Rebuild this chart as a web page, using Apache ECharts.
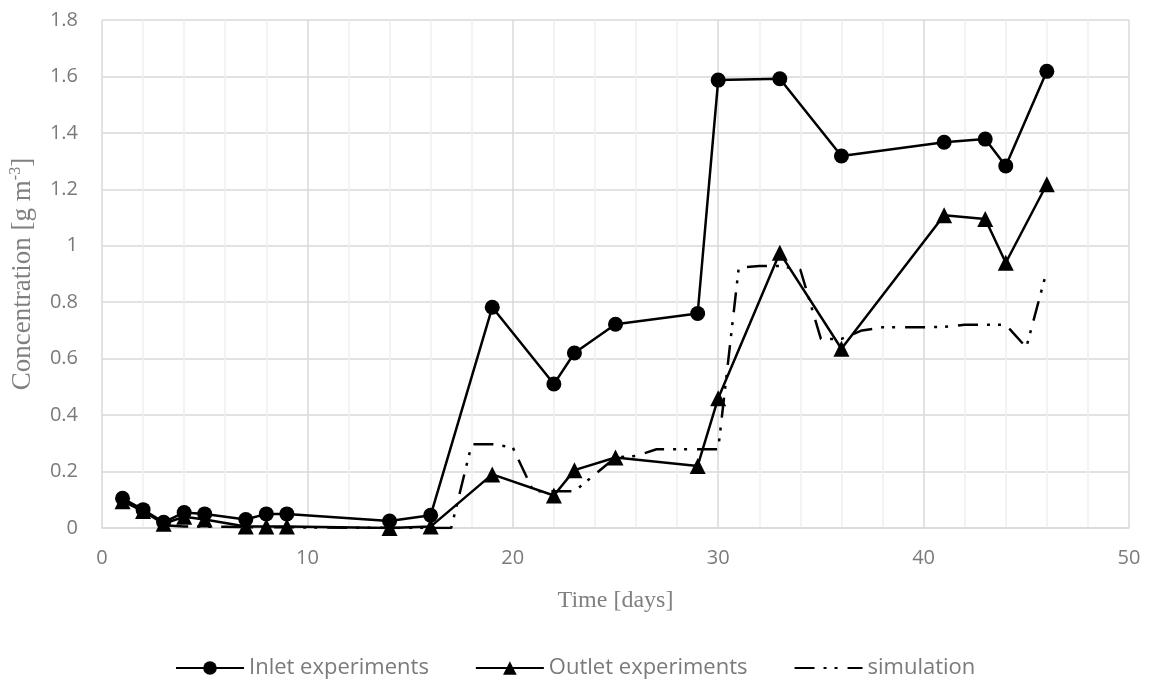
<!DOCTYPE html>
<html>
<head>
<meta charset="utf-8">
<script src="https://cdn.jsdelivr.net/npm/echarts@6/dist/echarts.min.js"></script>
<style>
  html, body { margin: 0; padding: 0; background: #fff; }
  #main { width: 1158px; height: 686px; }
</style>
</head>
<body>
<div id="main"></div>
<script>
// measured days (x) for both experiment series
const expDays = [1, 2, 3, 4, 5, 7, 8, 9, 14, 16, 19, 22, 23, 25, 29, 30, 33, 36, 41, 43, 44, 46];
const inletValues = [0.105, 0.065, 0.02, 0.055, 0.05, 0.03, 0.05, 0.05, 0.025, 0.045, 0.782, 0.51, 0.62, 0.722, 0.76, 1.587, 1.592, 1.318, 1.367, 1.378, 1.283, 1.618];
const outletValues = [0.095, 0.06, 0.015, 0.04, 0.03, 0.005, 0.005, 0.005, 0.0, 0.005, 0.19, 0.115, 0.205, 0.25, 0.22, 0.46, 0.975, 0.635, 1.108, 1.095, 0.94, 1.218];

// simulation, one value per day
const simDays = [1, 2, 3, 4, 5, 6, 7, 8, 9, 10, 11, 12, 13, 14, 15, 16, 17, 18, 19, 20, 21, 22, 23,
  24, 25, 26, 27, 28, 29, 30, 31, 32, 33, 34, 35, 36, 37, 38, 39, 40, 41, 42, 43, 44, 45, 46];
const simValues = [0.1, 0.06, 0.01, 0.005, 0.005, 0.004, 0.003, 0.003, 0.003, 0.002, 0.002, 0.001, 0.001, 0, 0, 0, 0, 0.297, 0.297, 0.285, 0.13, 0.13, 0.13,
  0.19, 0.25, 0.255, 0.279, 0.279, 0.279, 0.279, 0.922, 0.928, 0.928, 0.915, 0.67, 0.67, 0.70, 0.711, 0.711, 0.711, 0.713, 0.72, 0.72, 0.72, 0.64, 0.912];

const seriesNames = ['Inlet experiments', 'Outlet experiments', 'simulation'];

const pair = (xs, ys) => xs.map((x, i) => [x, ys[i]]);

const chart = echarts.init(document.getElementById('main'), null, { renderer: 'canvas' });

const tickFont = { color: '#7a7a7a', fontSize: 20, fontFamily: 'Open Sans' };
const titleFont = { color: '#808080', fontSize: 24, fontFamily: 'Liberation Serif' };
const yTitleFont = { color: '#808080', fontSize: 27, fontFamily: 'Liberation Serif' };

chart.setOption({
  animation: false,
  backgroundColor: '#fff',
  grid: { left: 101, right: 29, top: 20, bottom: 158 },
  legend: {
    data: [
      { name: seriesNames[0] },
      { name: seriesNames[1] },
      { name: seriesNames[2], itemStyle: { opacity: 0 } }
    ],
    bottom: 2,
    left: 170,
    itemWidth: 68,
    itemHeight: 17,
    itemGap: 46,
    textStyle: { color: '#7a7a7a', fontSize: 22, fontFamily: 'Open Sans' }
  },
  xAxis: {
    type: 'value',
    min: 0,
    max: 50,
    interval: 10,
    name: 'Time [days]',
    nameLocation: 'middle',
    nameGap: 61,
    nameTextStyle: titleFont,
    axisLine: { show: true, lineStyle: { color: '#d9d9d9', width: 1.5 } },
    axisTick: { show: false },
    axisLabel: Object.assign({ margin: 20 }, tickFont),
    splitLine: { show: true, lineStyle: { color: '#d9d9d9', width: 1.5 } },
    minorTick: { show: false, splitNumber: 5 },
    minorSplitLine: { show: true, lineStyle: { color: '#efefef', width: 1.5 } }
  },
  yAxis: {
    type: 'value',
    min: 0,
    max: 1.8,
    interval: 0.2,
    name: '{n|Concentration [g m}{s|-3}{n|]}',
    nameLocation: 'middle',
    nameGap: 64,
    nameTextStyle: {
      rich: {
        n: yTitleFont,
        s: { color: '#808080', fontSize: 16, fontFamily: 'Liberation Serif', padding: [0, 0, 14, 0] }
      }
    },
    axisLine: { show: false },
    axisTick: { show: false },
    axisLabel: Object.assign({ margin: 24 }, tickFont),
    splitLine: { show: true, lineStyle: { color: '#d9d9d9', width: 1.5 } }
  },
  series: [
    {
      name: seriesNames[0],
      type: 'line',
      data: pair(expDays, inletValues),
      symbol: 'circle',
      symbolSize: 15,
      itemStyle: { color: '#000' },
      lineStyle: { color: '#000', width: 2.5 },
      z: 4
    },
    {
      name: seriesNames[1],
      type: 'line',
      data: pair(expDays, outletValues),
      symbol: 'triangle',
      symbolSize: 16,
      itemStyle: { color: '#000' },
      lineStyle: { color: '#000', width: 2.5 },
      z: 3
    },
    {
      name: seriesNames[2],
      type: 'line',
      data: pair(simDays, simValues),
      symbol: 'none',
      itemStyle: { color: '#000' },
      lineStyle: { color: '#000', width: 2.5, type: [20, 9, 3, 8, 3, 10], cap: 'butt' },
      z: 2
    }
  ]
});
</script>
</body>
</html>
